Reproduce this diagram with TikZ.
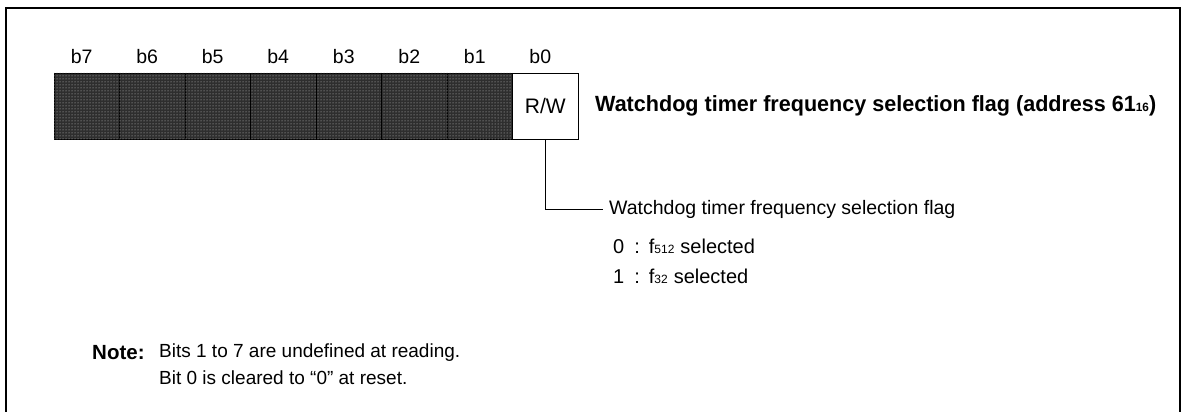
\documentclass[tikz,border=0pt]{standalone}
\usepackage{fontspec}
\usetikzlibrary{patterns}
\setmainfont{Liberation Sans}
\newfontfamily\bodyfont{Liberation Sans}
\newfontfamily\titlefont[FakeStretch=0.98]{Liberation Sans}
\newcommand{\smalldig}[1]{{\fontsize{12}{12}\selectfont #1}}
\begin{document}
\begin{tikzpicture}[x=1pt,y=-1pt,
  frame/.style={line width=2.5pt},
  darkcell/.style={draw=black,fill=black!82,line width=0.8pt,minimum width=65.5pt,minimum height=66pt,inner sep=0pt,
    postaction={pattern=dots,pattern color=white!80!black}},
  whitecell/.style={draw=black,fill=white,line width=0.8pt,minimum width=65.5pt,minimum height=66pt,inner sep=0pt,font=\fontsize{21}{21}\selectfont},
  bitlab/.style={font=\fontsize{19.5}{19.5}\selectfont,inner sep=0pt},
  body/.style={font=\bodyfont\fontsize{19.5}{19.5}\selectfont,inner sep=0pt,anchor=west},
  opttext/.style={font=\bodyfont\fontsize{20}{20}\selectfont,inner sep=0pt,anchor=west},
  notetext/.style={font=\bodyfont\fontsize{19}{19}\selectfont,inner sep=0pt,anchor=west},
  notehead/.style={font=\bodyfont\bfseries\fontsize{20.5}{20.5}\selectfont,inner sep=0pt,anchor=west},
  titletext/.style={font=\titlefont\bfseries\fontsize{22}{22}\selectfont,inner sep=0pt,anchor=west},
  conn/.style={line width=0.8pt}
]
\useasboundingbox (0,0) rectangle (1184,412);
\draw[frame] (6,413) -- (6,8) -- (1180,8) -- (1180,413);
% register cells
\foreach \i in {0,...,6} {
  \node[darkcell] (c\i) at ({54+65.5*\i+32.75},106) {};
}
\node[whitecell] (c7) at ({54+65.5*7+32.75},106) {R/W};
% bit labels
\foreach \i/\lab in {0/b7,1/b6,2/b5,3/b4,4/b3,5/b2,6/b1,7/b0} {
  \node[bitlab] (l\i) at ({54+65.5*\i+32.75-5},57) {\lab};
}
% title
\node[titletext] (title) at (595,106) {Watchdog timer frequency selection flag (address 61\smalldig{16})};
% connector and description
\node[body] (desc) at (609,209) {Watchdog timer frequency selection flag};
\coordinate (bend) at (c7.south |- desc.west);
\draw[conn] (c7.south) -- (bend) -- ([xshift=-6pt]desc.west);
\node[opttext] (opt0) at (613,246) {0\hspace{10pt}:\hspace{9pt}f\smalldig{512}\hspace{6pt}selected};
\node[opttext] (opt1) at (613,276) {1\hspace{10pt}:\hspace{9pt}f\smalldig{32}\hspace{6pt}selected};
% note
\node[notehead] (note) at (92,353) {Note:};
\node[notetext] (n1) at (159,353) {Bits 1 to 7 are undefined at reading.};
\node[notetext] (n2) at (159,378) {Bit 0 is cleared to “0” at reset.};
\end{tikzpicture}
\end{document}
